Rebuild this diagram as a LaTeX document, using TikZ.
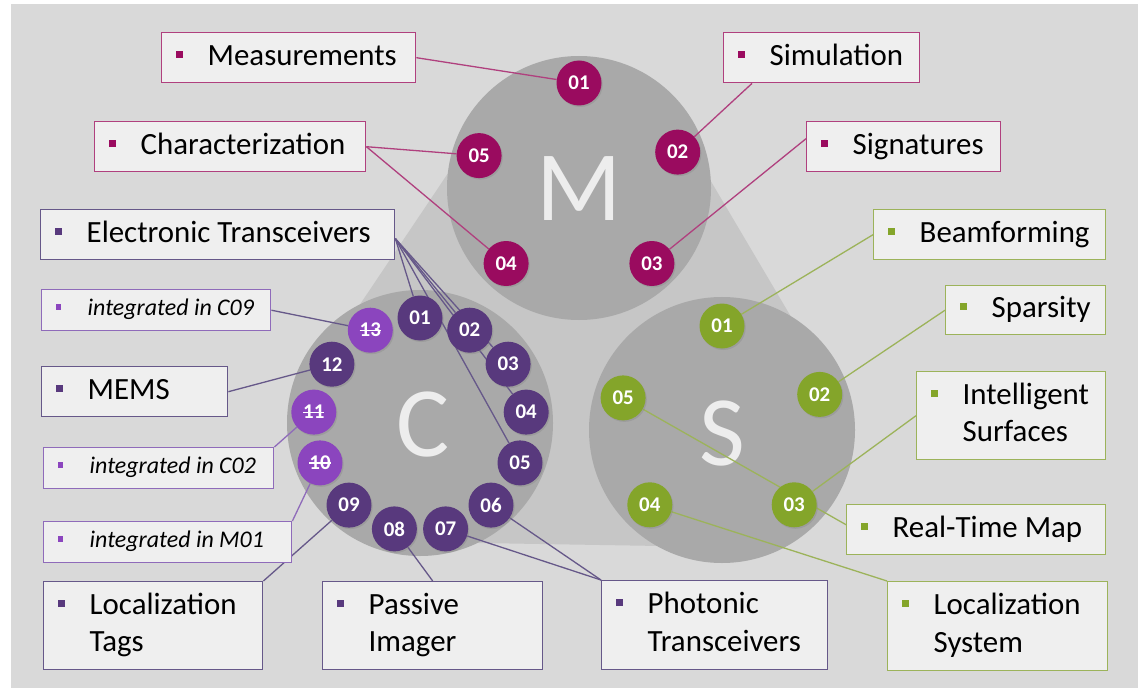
\documentclass[tikz,border=0pt]{standalone}
\usepackage{fontspec}
\setmainfont{Carlito}
\usetikzlibrary{calc,shadows}

\definecolor{bgc}{HTML}{D9D9D9}
\definecolor{tric}{HTML}{C6C6C6}
\definecolor{bigc}{HTML}{A9A9A9}
\definecolor{letc}{HTML}{EDEDED}
\definecolor{boxfill}{HTML}{EFEFEF}
\definecolor{Mdot}{HTML}{9A0B5F}
\definecolor{Mline}{HTML}{B0407E}
\definecolor{Cdot}{HTML}{58397D}
\definecolor{Cline}{HTML}{665889}
\definecolor{Xdot}{HTML}{8B45BE}
\definecolor{Xline}{HTML}{8F6BBA}
\definecolor{Sdot}{HTML}{84A52A}
\definecolor{Sline}{HTML}{9CB35A}

\pgfdeclarelayer{back}
\pgfdeclarelayer{wires}
\pgfsetlayers{back,wires,main}

% box content: coloured square bullet followed by one or more lines
\newcommand\itm[3]{\makebox[#1][l]{\textcolor{#2}{\rule[7.5bp]{7bp}{7bp}}\hspace{25bp}\begin{tabular}[t]{@{}l@{}}#3\end{tabular}}}
\newcommand\itmi[3]{\makebox[#1][l]{\textcolor{#2}{\rule[6bp]{5.5bp}{5.5bp}}\hspace{26.5bp}\begin{tabular}[t]{@{}l@{}}#3\end{tabular}}}
% struck-out number
\newcommand\strk[1]{\setbox0\hbox{#1}\rlap{\rule[6bp]{\wd0}{1.3bp}}\box0}

\begin{document}
\begin{tikzpicture}[x=1bp, y=-1bp,
  itembox/.style={draw, fill=boxfill, line width=1.4bp, inner xsep=14bp, inner ysep=0pt,
    anchor=north west, text=black, font=\fontsize{31}{37.5}\selectfont},
  italbox/.style={itembox, font=\fontsize{24}{29}\selectfont\itshape},
  numdot/.style={circle, minimum size=45bp, inner sep=0pt, text=white,
    font=\fontsize{21}{21}\selectfont\bfseries,
    drop shadow={opacity=0.3, shadow xshift=1.2bp, shadow yshift=-1.5bp}},
  mdot/.style={numdot, fill=Mdot},
  cdot/.style={numdot, fill=Cdot},
  xdot/.style={numdot, fill=Xdot},
  sdot/.style={numdot, fill=Sdot},
  mwire/.style={draw=Mline, line width=1.3bp},
  cwire/.style={draw=Cline, line width=1.3bp},
  xwire/.style={draw=Xline, line width=1.3bp},
  swire/.style={draw=Sline, line width=1.3bp},
  bigletter/.style={text=letc, font=\fontsize{100}{100}\selectfont, inner sep=0pt},
]
\useasboundingbox (0,0) rectangle (1138,689);

\begin{pgfonlayer}{back}
  \fill[white] (0,0) rectangle (1138,689);
  \fill[bgc] (11,4) rectangle (1138,688);
  % rounded triangle joining the three clusters
  \filldraw[tric, line width=234bp, line join=round] (579,188) -- (420,425) -- (722,430) -- cycle;
  \fill[bigc] (579,188) circle[radius=132bp];
  \fill[bigc] (420,423) circle[radius=133bp];
  \fill[bigc] (722,430) circle[radius=133bp];
  \node[bigletter] (Mlet) at (579,189) {M};
  \node[bigletter] (Clet) at (423,425) {C};
  \node[bigletter] (Slet) at (722,434) {S};
\end{pgfonlayer}

% M cluster
\node[mdot] (m1) at (579,83) {01};
\node[mdot] (m2) at (677.7,152.1) {02};
\node[mdot] (m3) at (651.9,263.5) {03};
\node[mdot] (m4) at (506.1,263.5) {04};
\node[mdot] (m5) at (479.1,155.6) {05};

% C cluster
\node[cdot] (c1) at (420,318) {01};
\node[cdot] (c2) at (469.7,330.2) {02};
\node[cdot] (c3) at (508.1,364.2) {03};
\node[cdot] (c4) at (526.2,412.1) {04};
\node[cdot] (c5) at (520.0,462.9) {05};
\node[cdot] (c6) at (491.0,505.1) {06};
\node[cdot] (c7) at (445.6,528.9) {07};
\node[cdot] (c8) at (394.4,528.9) {08};
\node[cdot] (c9) at (349.0,505.1) {09};
\node[xdot] (c10) at (320.0,462.9) {\strk{10}};
\node[xdot] (c11) at (313.8,412.1) {\strk{11}};
\node[cdot] (c12) at (331.9,364.2) {12};
\node[xdot] (c13) at (370.3,330.2) {\strk{13}};

% S cluster
\node[sdot] (s1) at (722,326) {01};
\node[sdot] (s2) at (819.7,394.4) {02};
\node[sdot] (s3) at (794.2,504.8) {03};
\node[sdot] (s4) at (649.8,504.8) {04};
\node[sdot] (s5) at (623.1,397.9) {05};

% labels
\node[itembox, draw=Mline, minimum width=254bp, minimum height=50bp] (meas) at (161,32) {\itm{226bp}{Mdot}{Measurements}};
\node[itembox, draw=Mline, minimum width=196bp, minimum height=50bp] (simu) at (723,32) {\itm{168bp}{Mdot}{Simulation}};
\node[itembox, draw=Mline, minimum width=271bp, minimum height=50bp] (char) at (94,121) {\itm{243bp}{Mdot}{Characterization}};
\node[itembox, draw=Mline, minimum width=194bp, minimum height=50bp] (sig) at (806,121) {\itm{166bp}{Mdot}{Signatures}};

\node[itembox, draw=Cline, minimum width=354bp, minimum height=50bp] (et) at (40,209) {\itm{326bp}{Cdot}{Electronic Transceivers}};
\node[italbox, draw=Xline, minimum width=229bp, minimum height=41bp] (ic09) at (41,289) {\itmi{201bp}{Xdot}{integrated in C09}};
\node[itembox, draw=Cline, minimum width=186bp, minimum height=50bp] (mems) at (41,366) {\itm{158bp}{Cdot}{MEMS}};
\node[italbox, draw=Xline, minimum width=230bp, minimum height=41bp] (ic02) at (43,447) {\itmi{202bp}{Xdot}{integrated in C02}};
\node[italbox, draw=Xline, minimum width=248bp, minimum height=41bp] (im01) at (43,521) {\itmi{220bp}{Xdot}{integrated in M01}};
\node[itembox, draw=Cline, minimum width=219bp, minimum height=88bp] (ltag) at (43,581) {\itm{191bp}{Cdot}{Localization\\Tags}};
\node[itembox, draw=Cline, minimum width=220bp, minimum height=88bp] (pimg) at (322,581) {\itm{192bp}{Cdot}{Passive\\Imager}};
\node[itembox, draw=Cline, minimum width=226bp, minimum height=89bp] (phot) at (601,580) {\itm{198bp}{Cdot}{Photonic\\Transceivers}};

\node[itembox, draw=Sline, minimum width=232bp, minimum height=50bp] (beam) at (873,209) {\itm{204bp}{Sdot}{Beamforming}};
\node[itembox, draw=Sline, minimum width=160bp, minimum height=49bp] (spar) at (945,285) {\itm{132bp}{Sdot}{Sparsity}};
\node[itembox, draw=Sline, minimum width=189bp, minimum height=88bp] (isurf) at (916,371) {\itm{161bp}{Sdot}{Intelligent\\Surfaces}};
\node[itembox, draw=Sline, minimum width=259bp, minimum height=50bp] (rtm) at (846,504) {\itm{231bp}{Sdot}{Real-Time Map}};
\node[itembox, draw=Sline, minimum width=220bp, minimum height=89bp] (lsys) at (887,581) {\itm{192bp}{Sdot}{Localization\\System}};

\begin{pgfonlayer}{wires}
  \draw[mwire] (meas.east) -- (m1);
  \draw[mwire] ($(simu.south west)+(29,0)$) -- (m2);
  \draw[mwire] (char.east) -- (m5);
  \draw[mwire] (char.east) -- (m4);
  \draw[mwire] ($(sig.west)+(0,-8)$) -- (m3);

  \coordinate (etp) at ($(et.east)+(0,4)$);
  \foreach \k in {1,...,5} \draw[cwire] (etp) -- (c\k);
  \draw[cwire] (ic09.east) -- (c13);
  \draw[cwire] (mems.east) -- (c12);
  \draw[xwire] (ic02.north east) -- (c11);
  \draw[xwire] (im01.north east) -- (c10);
  \draw[cwire] (ltag.north east) -- (c9);
  \draw[cwire] (pimg.north) -- (c8);
  \draw[cwire] (phot.north west) -- (c7);
  \draw[cwire] (phot.north west) -- (c6);

  \draw[swire] (beam.west) -- (s1);
  \draw[swire] (spar.west) -- (s2);
  \draw[swire] (isurf.west) -- (s3);
  \draw[swire] ($(rtm.west)+(0,-5)$) -- (s5);
  \draw[swire] (lsys.north west) -- (s4);
\end{pgfonlayer}
\end{tikzpicture}
\end{document}
